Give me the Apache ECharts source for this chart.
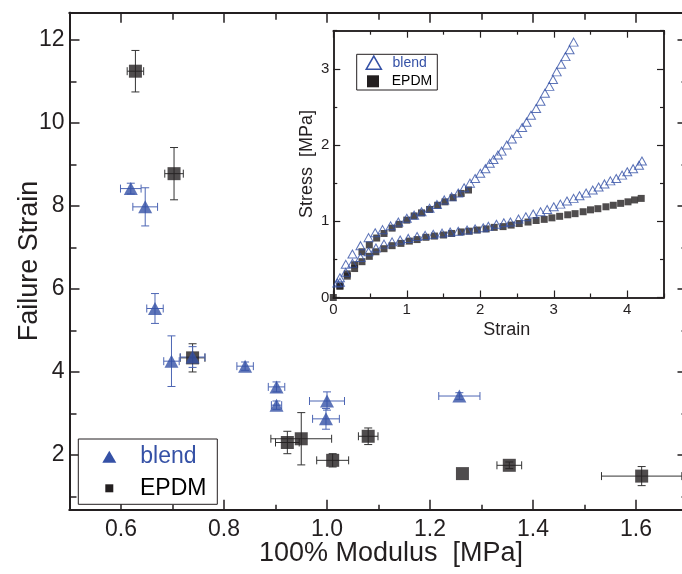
<!DOCTYPE html>
<html><head><meta charset="utf-8">
<script src="https://cdn.jsdelivr.net/npm/echarts@6/dist/echarts.min.js"></script>
<style>html,body{margin:0;padding:0;background:#fff}#c{width:682px;height:574px}</style>
</head><body><div id="c"></div><script>
// ---------- main chart data ----------
const epdmModulus   = [0.628, 0.703, 0.739, 0.923, 0.950, 1.011, 1.080, 1.263, 1.354, 1.611];
const epdmStrain    = [11.25, 8.78, 4.34, 2.30, 2.39, 1.87, 2.45, 1.55, 1.75, 1.49];
const epdmModErr    = [0.016, 0.018, 0.024, 0.023, 0.059, 0.031, 0.019, 0, 0.024, 0.078];
const epdmStrainErr = [0.50, 0.63, 0.34, 0.27, 0.63, 0.16, 0.20, 0, 0.08, 0.23];

const blendModulus   = [0.619, 0.647, 0.666, 0.698, 0.739, 0.841, 0.902, 0.902, 1.000, 0.998, 1.257];
const blendStrain    = [8.42, 7.98, 5.53, 4.26, 4.36, 4.14, 3.64, 3.20, 3.30, 2.87, 3.42];
const blendModErr    = [0.020, 0.024, 0.016, 0.015, 0.024, 0.016, 0.016, 0.010, 0.034, 0.026, 0.040];
const blendStrainErr = [0.13, 0.46, 0.36, 0.61, 0.25, 0.10, 0.12, 0.10, 0.22, 0.25, 0.08];

const mainXMajor = [0.6, 0.8, 1.0, 1.2, 1.4, 1.6];
const mainXMinor = [0.5, 0.7, 0.9, 1.1, 1.3, 1.5, 1.7];
const mainYMajor = [2, 4, 6, 8, 10, 12];
const mainYMinor = [1, 3, 5, 7, 9, 11];

// ---------- inset data (strain, stress MPa) ----------
const insetBlendUpper = [[0.055,0.19],[0.09,0.26],[0.17,0.435],[0.26,0.57],[0.37,0.68],[0.48,0.785],[0.57,0.85],[0.67,0.89],[0.78,0.94],[0.885,0.99],[1.0,1.04],[1.10,1.08],[1.20,1.125],[1.31,1.17],[1.41,1.22],[1.51,1.28],[1.61,1.32],[1.70,1.37],[1.78,1.44],[1.86,1.50],[1.93,1.56],[2.0,1.63],[2.07,1.69],[2.13,1.76],[2.18,1.81],[2.24,1.87],[2.29,1.92],[2.36,2.0],[2.43,2.08],[2.50,2.15],[2.57,2.23],[2.63,2.30],[2.69,2.39],[2.76,2.48],[2.82,2.575],[2.88,2.68],[2.94,2.77],[2.99,2.86],[3.04,2.96],[3.10,3.06],[3.16,3.16],[3.215,3.25],[3.27,3.35]];
const insetBlendLower = [[0.09,0.20],[0.17,0.33],[0.26,0.45],[0.37,0.525],[0.48,0.60],[0.58,0.65],[0.69,0.70],[0.80,0.73],[0.91,0.755],[1.02,0.775],[1.14,0.80],[1.25,0.815],[1.36,0.83],[1.48,0.845],[1.59,0.86],[1.70,0.87],[1.82,0.885],[1.93,0.90],[2.04,0.915],[2.11,0.935],[2.22,0.96],[2.32,0.98],[2.41,0.99],[2.52,1.03],[2.62,1.06],[2.72,1.095],[2.82,1.125],[2.91,1.155],[3.0,1.19],[3.09,1.225],[3.18,1.265],[3.27,1.30],[3.35,1.335],[3.44,1.37],[3.53,1.41],[3.61,1.45],[3.69,1.49],[3.77,1.53],[3.85,1.56],[3.93,1.605],[4.0,1.65],[4.08,1.69],[4.16,1.735],[4.20,1.79]];
const insetEpdmUpper = [[0.09,0.15],[0.19,0.31],[0.29,0.43],[0.39,0.60],[0.49,0.69],[0.59,0.78],[0.69,0.84],[0.80,0.91],[0.895,0.96],[1.00,1.015],[1.10,1.07],[1.20,1.11],[1.31,1.155],[1.42,1.21],[1.52,1.255],[1.63,1.31],[1.74,1.365],[1.84,1.41]];
const insetEpdmLower = [[0.0,0.0],[0.09,0.15],[0.19,0.28],[0.29,0.38],[0.39,0.47],[0.49,0.54],[0.58,0.60],[0.69,0.64],[0.80,0.68],[0.92,0.71],[1.035,0.74],[1.14,0.76],[1.26,0.79],[1.376,0.806],[1.50,0.82],[1.61,0.84],[1.74,0.86],[1.85,0.87],[1.96,0.885],[2.08,0.90],[2.19,0.92],[2.31,0.93],[2.42,0.95],[2.53,0.97],[2.65,0.99],[2.76,1.01],[2.87,1.025],[2.975,1.045],[3.08,1.065],[3.19,1.085],[3.29,1.10],[3.40,1.125],[3.50,1.15],[3.60,1.165],[3.71,1.19],[3.81,1.21],[3.91,1.235],[4.01,1.255],[4.10,1.28],[4.19,1.30]];

const insetXMajor = [0, 1, 2, 3, 4];
const insetXMinor = [0.5, 1.5, 2.5, 3.5, 4.5];
const insetYMajor = [0, 1, 2, 3];
const insetYMinor = [0.5, 1.5, 2.5, 3.5];

// ---------- styling ----------
const INK = '#231f20';
const BLUE = '#3551a6';
const BLUE_ERR = '#4d66b4';
const FONT = '"Liberation Sans", Arial, Helvetica, sans-serif';

function axis(grid, pos, min, max, ticks, len, labels, cfg) {
  return {
    type: 'value', gridIndex: grid, position: pos, min: min, max: max,
    splitLine: {show: false},
    axisLine: {show: true, onZero: false, lineStyle: {color: INK, width: cfg.lw}},
    axisTick: {show: true, inside: true, length: len, customValues: ticks, lineStyle: {color: INK, width: cfg.tw}},
    axisLabel: labels ? {show: true, customValues: labels, formatter: cfg.fmt, fontSize: cfg.fs, fontFamily: FONT, color: INK, margin: cfg.margin} : {show: false}
  };
}

const mainCfg = {lw: 2, tw: 1.5, fs: 23, margin: 8, fmt: v => (+v).toFixed(1)};
const mainYCfg = {lw: 2, tw: 1.5, fs: 23, margin: 5, fmt: v => String(Math.round(v))};
const insetCfg = {lw: 1.5, tw: 1.2, fs: 15, margin: 5, fmt: v => String(Math.round(v))};
const insetYCfg = {lw: 1.5, tw: 1.2, fs: 15, margin: 4, fmt: v => String(Math.round(v))};

const xAxes = [
  axis(0, 'bottom', 0.5, 1.7, mainXMajor, 10, mainXMajor, mainCfg),
  axis(0, 'bottom', 0.5, 1.7, mainXMinor, 5, null, mainCfg),
  axis(0, 'top', 0.5, 1.7, mainXMajor, 10, null, mainCfg),
  axis(0, 'top', 0.5, 1.7, mainXMinor, 7, null, mainCfg),
  axis(1, 'bottom', 0, 4.5, insetXMajor, 7, insetXMajor, insetCfg),
  axis(1, 'bottom', 0, 4.5, insetXMinor, 4, null, insetCfg),
  axis(1, 'top', 0, 4.5, insetXMajor, 7, null, insetCfg),
  axis(1, 'top', 0, 4.5, insetXMinor, 4, null, insetCfg)
];
const yAxes = [
  axis(0, 'left', 0.68, 12.66, mainYMajor, 10, mainYMajor, mainYCfg),
  axis(0, 'left', 0.68, 12.66, mainYMinor, 7, null, mainYCfg),
  axis(0, 'right', 0.68, 12.66, mainYMajor, 10, null, mainYCfg),
  axis(0, 'right', 0.68, 12.66, mainYMinor, 6, null, mainYCfg),
  axis(1, 'left', 0, 3.5, insetYMajor, 7, insetYMajor, insetYCfg),
  axis(1, 'left', 0, 3.5, insetYMinor, 4, null, insetYCfg),
  axis(1, 'right', 0, 3.5, insetYMajor, 7, null, insetYCfg),
  axis(1, 'right', 0, 3.5, insetYMinor, 4, null, insetYCfg)
];

function errorBars(color) {
  return function (params, api) {
    const x = api.value(0), y = api.value(1), ex = api.value(2), ey = api.value(3);
    const c = api.coord([x, y]);
    const st = {stroke: color, lineWidth: 1};
    const kids = [];
    const cap = 4;
    if (ey > 0) {
      const t = api.coord([x, y + ey]), b = api.coord([x, y - ey]);
      kids.push({type: 'line', shape: {x1: c[0], y1: t[1], x2: c[0], y2: b[1]}, style: st});
      kids.push({type: 'line', shape: {x1: c[0] - cap, y1: t[1], x2: c[0] + cap, y2: t[1]}, style: st});
      kids.push({type: 'line', shape: {x1: c[0] - cap, y1: b[1], x2: c[0] + cap, y2: b[1]}, style: st});
    }
    if (ex > 0) {
      const l = api.coord([x - ex, y]), r = api.coord([x + ex, y]);
      kids.push({type: 'line', shape: {x1: l[0], y1: c[1], x2: r[0], y2: c[1]}, style: st});
      kids.push({type: 'line', shape: {x1: l[0], y1: c[1] - cap, x2: l[0], y2: c[1] + cap}, style: st});
      kids.push({type: 'line', shape: {x1: r[0], y1: c[1] - cap, x2: r[0], y2: c[1] + cap}, style: st});
    }
    return {type: 'group', children: kids};
  };
}

const epdmPts = epdmModulus.map((m, i) => [m, epdmStrain[i], epdmModErr[i], epdmStrainErr[i]]);
const blendPts = blendModulus.map((m, i) => [m, blendStrain[i], blendModErr[i], blendStrainErr[i]]);

const option = {
  animation: false,
  backgroundColor: '#fff',
  grid: [
    {left: 69.5, top: 12.7, width: 618, height: 497, containLabel: false, outerBoundsMode: 'none'},
    {left: 333.3, top: 30.7, width: 330.7, height: 266.8, containLabel: false, outerBoundsMode: 'none'}
  ],
  xAxis: xAxes,
  yAxis: yAxes,
  legend: [
    {data: [{name: 'blend', icon: 'triangle', itemStyle: {color: BLUE}, textStyle: {color: BLUE}}],
     left: 102.3, top: 443.7, padding: 0, itemWidth: 14, itemHeight: 12, selectedMode: false,
     textStyle: {fontSize: 23, fontFamily: FONT, lineHeight: 26, padding: [0, 0, 0, 19]}},
    {data: [{name: 'EPDM', icon: 'rect', itemStyle: {color: INK}, textStyle: {color: '#000'}}],
     left: 105.3, top: 475.3, padding: 0, itemWidth: 8, itemHeight: 8, selectedMode: false,
     textStyle: {fontSize: 23, fontFamily: FONT, lineHeight: 26, padding: [0, 0, 0, 21.7]}},
    {data: [{name: 'blend', icon: 'triangle', itemStyle: {color: 'rgba(0,0,0,0)', borderColor: BLUE, borderWidth: 1.6}, textStyle: {color: BLUE}}],
     left: 365.5, top: 54.7, padding: 0, itemWidth: 15, itemHeight: 13, selectedMode: false,
     textStyle: {fontSize: 14, fontFamily: FONT, lineHeight: 16, padding: [0, 0, 0, 6.2]}},
    {data: [{name: 'EPDM', icon: 'rect', itemStyle: {color: INK}, textStyle: {color: '#000'}}],
     left: 367, top: 73.3, padding: 0, itemWidth: 12, itemHeight: 12, selectedMode: false,
     textStyle: {fontSize: 14, fontFamily: FONT, lineHeight: 16, padding: [0, 0, 0, 7.7]}}
  ],
  graphic: [
    {type: 'rect', z: 3, shape: {x: 78.3, y: 439, width: 139, height: 65.3}, style: {fill: '#fff', stroke: INK, lineWidth: 1}},
    {type: 'rect', z: 3, shape: {x: 356.7, y: 54.3, width: 80.6, height: 35.7}, style: {fill: '#fff', stroke: INK, lineWidth: 1}},
    {type: 'text', x: 30, y: 261, rotation: Math.PI / 2, style: {text: 'Failure Strain', font: '27px ' + FONT, fill: INK, textAlign: 'center', textVerticalAlign: 'middle'}},
    {type: 'text', x: 391, y: 554, style: {text: '100% Modulus  [MPa]', font: '27px ' + FONT, fill: INK, textAlign: 'center', textVerticalAlign: 'middle'}},
    {type: 'text', x: 307.5, y: 164, rotation: Math.PI / 2, style: {text: 'Stress  [MPa]', font: '18px ' + FONT, fill: INK, textAlign: 'center', textVerticalAlign: 'middle'}},
    {type: 'text', x: 506.7, y: 330, style: {text: 'Strain', font: '18px ' + FONT, fill: INK, textAlign: 'center', textVerticalAlign: 'middle'}}
  ],
  series: [
    {type: 'custom', name: 'EPDM', xAxisIndex: 0, yAxisIndex: 0, z: 1, renderItem: errorBars('#333'), data: epdmPts, silent: true},
    {type: 'custom', name: 'blend', xAxisIndex: 0, yAxisIndex: 0, z: 1, renderItem: errorBars(BLUE_ERR), data: blendPts, silent: true},
    {type: 'scatter', name: 'EPDM', xAxisIndex: 0, yAxisIndex: 0, z: 2, symbol: 'rect', symbolSize: 13,
     itemStyle: {color: INK}, data: epdmModulus.map((m, i) => [m, epdmStrain[i]])},
    {type: 'scatter', name: 'blend', xAxisIndex: 0, yAxisIndex: 0, z: 3, symbol: 'triangle', symbolSize: [14, 13],
     itemStyle: {color: BLUE}, data: blendModulus.map((m, i) => [m, blendStrain[i]])},
    {type: 'scatter', name: 'EPDM', xAxisIndex: 4, yAxisIndex: 4, z: 2, symbol: 'rect', symbolSize: 7,
     itemStyle: {color: INK}, data: insetEpdmLower},
    {type: 'scatter', name: 'EPDM', xAxisIndex: 4, yAxisIndex: 4, z: 2, symbol: 'rect', symbolSize: 7,
     itemStyle: {color: INK}, data: insetEpdmUpper},
    {type: 'scatter', name: 'blend', xAxisIndex: 4, yAxisIndex: 4, z: 3, symbol: 'triangle', symbolSize: [9, 8],
     itemStyle: {color: 'rgba(0,0,0,0)', borderColor: BLUE, borderWidth: 1}, data: insetBlendLower},
    {type: 'scatter', name: 'blend', xAxisIndex: 4, yAxisIndex: 4, z: 3, symbol: 'triangle', symbolSize: [9, 8],
     itemStyle: {color: 'rgba(0,0,0,0)', borderColor: BLUE, borderWidth: 1}, data: insetBlendUpper}
  ]
};

const chart = echarts.init(document.getElementById('c'), null, {renderer: 'canvas'});
chart.setOption(option);
</script></body></html>
